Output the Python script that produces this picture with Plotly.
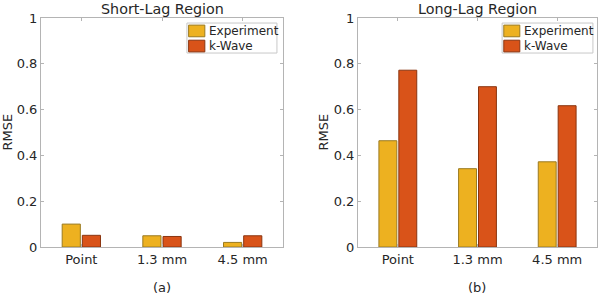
import plotly.graph_objects as go

categories = ["Point", "1.3 mm", "4.5 mm"]
short_experiment = [0.100, 0.049, 0.020]
short_kwave = [0.051, 0.046, 0.049]
long_experiment = [0.464, 0.342, 0.372]
long_kwave = [0.772, 0.700, 0.617]
series_names = ["Experiment", "k-Wave"]
panel_titles = ["Short-Lag Region", "Long-Lag Region"]
panel_labels = ["(a)", "(b)"]
y_ticks = [0, 0.2, 0.4, 0.6, 0.8, 1]
y_ticklabels = ["0", "0.2", "0.4", "0.6", "0.8", "1"]

colors = ["#EDB120", "#D95319"]
edges = ["#9a7a20", "#8a3510"]
font = "DejaVu Sans"
txt = "#262626"

fig = go.Figure()
panels = [(short_experiment, short_kwave, "x", "y"),
          (long_experiment, long_kwave, "x2", "y2")]
for exp, kw, xa, ya in panels:
    for vals, nm, col, ec in zip([exp, kw], series_names, colors, edges):
        fig.add_trace(go.Bar(x=categories, y=vals, name=nm, xaxis=xa, yaxis=ya,
                             showlegend=False, hoverinfo="skip",
                             marker=dict(color=col, line=dict(color=ec, width=1))))

ydom = [(295 - 247) / 295, (295 - 18) / 295]
xdoms = [[41 / 600, 283 / 600], [358 / 600, 597 / 600]]

axis_common = dict(showline=True, linecolor="#b4b4b4", linewidth=1, mirror="ticks",
                   ticks="inside", tickcolor="#b4b4b4", ticklen=3, showgrid=False,
                   zeroline=False, automargin=False,
                   tickfont=dict(family=font, size=13, color=txt))

fig.update_layout(
    template="none",
    width=600, height=295, margin=dict(l=0, r=0, t=0, b=0, pad=0),
    paper_bgcolor="white", plot_bgcolor="white",
    barmode="group", bargap=0.5, bargroupgap=0.1,
    font=dict(family=font, color=txt), showlegend=False,
    xaxis=dict(domain=xdoms[0], anchor="y", range=[-0.5, 2.5], ticklabelstandoff=0, **axis_common),
    yaxis=dict(domain=ydom, anchor="x", range=[0, 1], tickvals=y_ticks, ticktext=y_ticklabels,
               **axis_common),
    xaxis2=dict(domain=xdoms[1], anchor="y2", range=[-0.5, 2.5], ticklabelstandoff=0, **axis_common),
    yaxis2=dict(domain=ydom, anchor="x2", range=[0, 1], tickvals=y_ticks, ticktext=y_ticklabels,
                **axis_common),
)

ytitle_x = [7 / 600, 323 / 600]
title_x = [(41 + 283) / 2 / 600, (358 + 597) / 2 / 600]
for i in range(2):
    fig.add_annotation(text=panel_titles[i], x=title_x[i], y=(295 - 9) / 295, xref="paper",
                       yref="paper", xanchor="center", yanchor="middle", showarrow=False,
                       font=dict(family=font, size=14.3, color=txt))
    fig.add_annotation(text=panel_labels[i], x=title_x[i], y=(295 - 287) / 295, xref="paper",
                       yref="paper", xanchor="center", yanchor="middle", showarrow=False,
                       font=dict(family=font, size=13, color=txt))
    fig.add_annotation(text="RMSE", x=ytitle_x[i], y=(ydom[0] + ydom[1]) / 2, xref="paper",
                       yref="paper", xanchor="center", yanchor="middle", showarrow=False,
                       textangle=-90, font=dict(family=font, size=13, color=txt))

# legend boxes (drawn in axis-domain coordinates)
leg_x = [(0.603, 0.975), (0.603, 0.983)]
for i, sfx in enumerate(["", "2"]):
    xr, yr = "x" + sfx + " domain", "y" + sfx + " domain"
    x0, x1 = leg_x[i]
    fig.add_shape(type="rect", xref=xr, yref=yr, x0=x0, x1=x1, y0=0.847, y1=0.978,
                  line=dict(color="#c8c8c8", width=1), fillcolor="white", layer="above")
    for j in range(2):
        top = 0.969 - j * 0.066
        fig.add_shape(type="rect", xref=xr, yref=yr, x0=x0 + 0.007, x1=x0 + 0.074,
                      y0=top - 0.051, y1=top, fillcolor=colors[j],
                      line=dict(color=edges[j], width=1), layer="above")
        fig.add_annotation(text=series_names[j], xref=xr, yref=yr, x=x0 + 0.082,
                           y=top - 0.0255, xanchor="left", yanchor="middle", showarrow=False,
                           font=dict(family=font, size=12, color=txt))

fig.write_html("out.html", config={"displayModeBar": False, "staticPlot": True},
               post_script="document.body.style.margin='0';document.body.style.overflow='hidden';")
